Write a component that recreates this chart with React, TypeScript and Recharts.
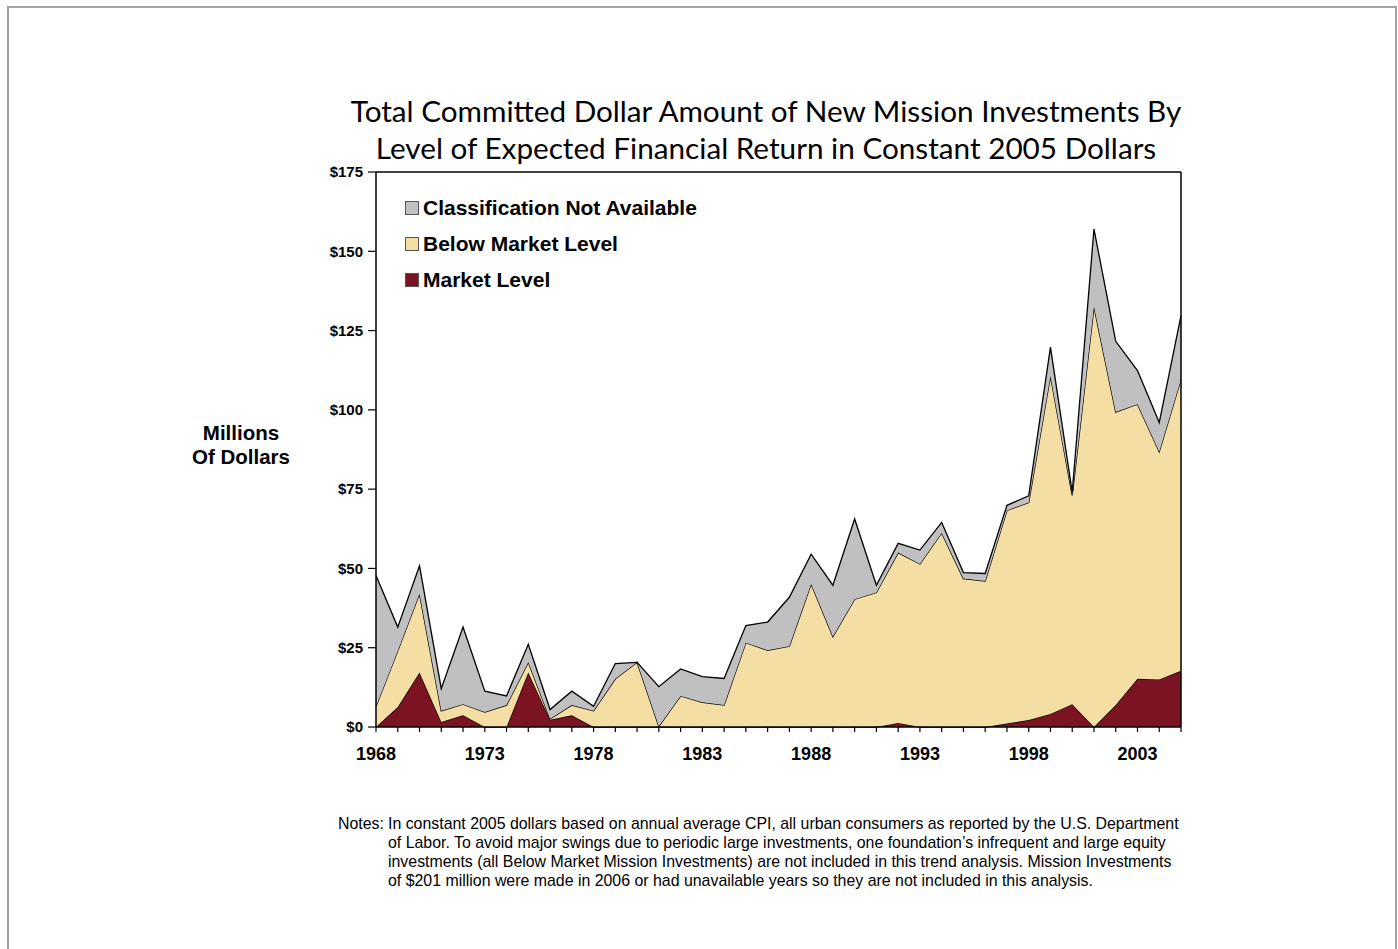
import React from "react";
import { AreaChart, Area, XAxis, YAxis, ReferenceLine } from "recharts";

// years 1968..2005
const YEARS = [
  1968, 1969, 1970, 1971, 1972, 1973, 1974, 1975, 1976, 1977, 1978, 1979, 1980,
  1981, 1982, 1983, 1984, 1985, 1986, 1987, 1988, 1989, 1990, 1991, 1992, 1993,
  1994, 1995, 1996, 1997, 1998, 1999, 2000, 2001, 2002, 2003, 2004, 2005,
];

// millions of 2005 dollars
const MARKET = [
  0, 6.3, 17.2, 1.6, 3.7, 0, 0, 17.2, 2.3, 3.7, 0, 0, 0,
  0, 0, 0, 0, 0, 0, 0, 0, 0, 0, 0, 1.3, 0,
  0, 0, 0, 1.1, 2.2, 4.1, 7.2, 0, 6.9, 15.2, 15.0, 17.7,
];
const BELOW_MARKET = [
  6.5, 17.7, 24.8, 3.5, 3.5, 4.7, 6.9, 3.2, 0.3, 3.2, 5.1, 15.2, 20.4,
  0.2, 9.8, 7.8, 6.9, 26.6, 24.2, 25.5, 45.1, 28.5, 40.3, 42.4, 53.7, 51.4,
  61.2, 46.8, 46.0, 67.2, 68.6, 106.6, 65.8, 132.5, 92.4, 86.6, 71.8, 91.9,
];
const NOT_AVAILABLE = [
  41.3, 7.5, 8.8, 7.0, 24.3, 6.6, 2.9, 5.7, 2.9, 4.4, 1.4, 4.8, 0,
  12.5, 8.5, 8.1, 8.4, 5.4, 8.9, 15.4, 9.4, 16.2, 25.3, 2.3, 2.9, 4.4,
  3.3, 1.9, 2.4, 1.6, 2.1, 9.1, 1.0, 24.5, 22.3, 10.6, 9.2, 20.1,
];

const Y_TICKS = [0, 25, 50, 75, 100, 125, 150, 175];

const LEGEND = [
  { label: "Classification Not Available", color: "#c0c0c0" },
  { label: "Below Market Level", color: "#f5dea3" },
  { label: "Market Level", color: "#7b1323" },
];

const NOTES = [
  "In constant 2005 dollars based on annual average CPI, all urban consumers as reported by the U.S. Department",
  "of Labor. To avoid major swings due to periodic large investments, one foundation\u2019s infrequent and large equity",
  "investments (all Below Market Mission Investments) are not included in this trend analysis. Mission Investments",
  "of $201 million were made in 2006 or had unavailable years so they are not included in this analysis.",
];

const data = YEARS.map((year, i) => ({
  year,
  market: MARKET[i],
  below: BELOW_MARKET[i],
  na: NOT_AVAILABLE[i],
}));

const ARIAL = "'Liberation Sans', Arial, sans-serif";

export default function App() {
  return (
    <div
      style={{
        position: "absolute",
        left: 0,
        top: 0,
        width: 1398,
        height: 949,
        background: "#fff",
        overflow: "hidden",
      }}
    >
      <div
        style={{
          position: "absolute",
          left: 7,
          top: 6,
          width: 1386,
          height: 1000,
          border: "2px solid #a3a3a3",
        }}
      />

      {/* title */}
      <div
        style={{
          position: "absolute",
          left: 266,
          width: 1000,
          top: 92,
          textAlign: "center",
          fontFamily: "Lato, 'Open Sans', sans-serif",
          fontSize: 29.7,
          lineHeight: "37px",
          color: "#000",
        }}
      >
        Total Committed Dollar Amount of New Mission Investments By
        <br />
        Level of Expected Financial Return in Constant 2005 Dollars
      </div>

      {/* y axis title */}
      <div
        style={{
          position: "absolute",
          left: 161,
          width: 160,
          top: 421,
          textAlign: "center",
          fontFamily: ARIAL,
          fontWeight: "bold",
          fontSize: 20.5,
          lineHeight: "24px",
        }}
      >
        Millions
        <br />
        Of Dollars
      </div>

      <div style={{ position: "absolute", left: 0, top: 0 }}>
        <AreaChart
          width={1398}
          height={949}
          data={data}
          margin={{ top: 172, right: 217, left: 316, bottom: 192 }}
        >
          <XAxis
            dataKey="year"
            type="number"
            domain={[1968, 2005]}
            ticks={YEARS}
            interval={0}
            height={30}
            tickFormatter={(v: number) => ((v - 1968) % 5 === 0 ? String(v) : "")}
            tick={{ fill: "#000", fontFamily: ARIAL, fontWeight: "bold", fontSize: 18 }}
            tickSize={5}
            tickMargin={15}
            axisLine={{ stroke: "#000", strokeWidth: 1.5 }}
            tickLine={{ stroke: "#000", strokeWidth: 1.2 }}
          />
          <YAxis
            type="number"
            domain={[0, 175]}
            ticks={Y_TICKS}
            interval={0}
            width={60}
            tickFormatter={(v: number) => `$${v}`}
            tick={{ fill: "#000", fontFamily: ARIAL, fontWeight: "bold", fontSize: 15 }}
            tickSize={8}
            tickMargin={5}
            axisLine={{ stroke: "#000", strokeWidth: 1.5 }}
            tickLine={{ stroke: "#000", strokeWidth: 1.2 }}
          />
          <Area
            type="linear"
            dataKey="market"
            stackId="a"
            fill="#7b1323"
            fillOpacity={1}
            stroke="#000"
            strokeWidth={1.3}
            dot={false}
            activeDot={false}
            isAnimationActive={false}
          />
          <Area
            type="linear"
            dataKey="below"
            stackId="a"
            fill="#f5dea3"
            fillOpacity={1}
            stroke="#000"
            strokeWidth={1.3}
            dot={false}
            activeDot={false}
            isAnimationActive={false}
          />
          <Area
            type="linear"
            dataKey="na"
            stackId="a"
            fill="#c0c0c0"
            fillOpacity={1}
            stroke="#000"
            strokeWidth={1.3}
            dot={false}
            activeDot={false}
            isAnimationActive={false}
          />
          <ReferenceLine y={175} stroke="#000" strokeWidth={1.5} />
          <ReferenceLine x={2005} stroke="#000" strokeWidth={1.5} />
        </AreaChart>
      </div>

      {/* legend */}
      <div style={{ position: "absolute", left: 405, top: 190 }}>
        {LEGEND.map((item) => (
          <div
            key={item.label}
            style={{ display: "flex", alignItems: "center", height: 36 }}
          >
            <div
              style={{
                width: 14,
                height: 14,
                background: item.color,
                border: "1px solid #555",
                marginRight: 4,
                boxSizing: "border-box",
              }}
            />
            <span
              style={{
                fontFamily: ARIAL,
                fontWeight: "bold",
                fontSize: 21,
                color: "#000",
                whiteSpace: "nowrap",
              }}
            >
              {item.label}
            </span>
          </div>
        ))}
      </div>

      {/* notes */}
      <div
        style={{
          position: "absolute",
          left: 338,
          top: 814,
          fontFamily: ARIAL,
          fontSize: 15.9,
          lineHeight: "19px",
          color: "#000",
          whiteSpace: "nowrap",
        }}
      >
        {NOTES.map((line, i) => (
          <div key={line} style={{ display: "flex" }}>
            <span style={{ display: "inline-block", width: 50 }}>
              {i === 0 ? "Notes:" : ""}
            </span>
            <span>{line}</span>
          </div>
        ))}
      </div>
    </div>
  );
}
